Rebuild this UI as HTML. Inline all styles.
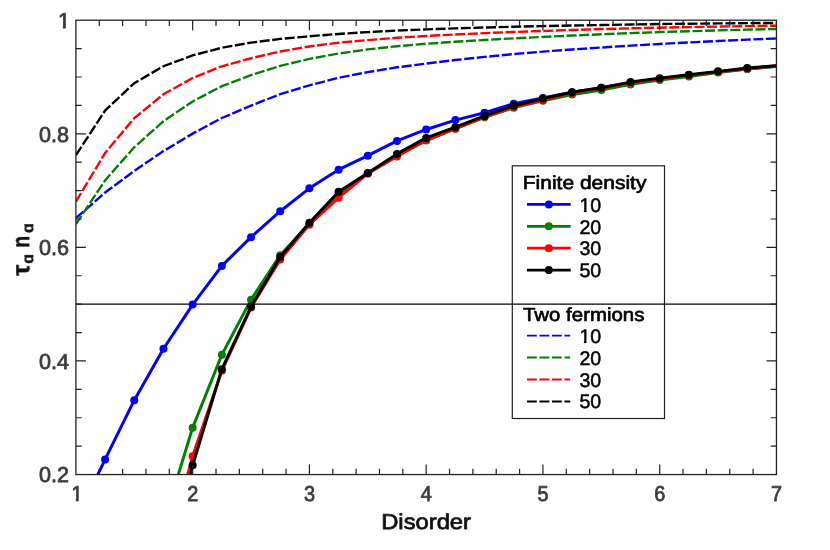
<!DOCTYPE html>
<html><head><meta charset="utf-8"><title>chart</title>
<style>html,body{margin:0;padding:0;background:#fff}body{width:830px;height:550px;overflow:hidden}svg{display:block}text{font-family:"Liberation Sans",sans-serif;text-rendering:geometricPrecision}</style></head><body>
<svg width="830" height="550" viewBox="0 0 830 550">
<rect width="830" height="550" fill="#fff"/>
<g opacity="0.999">
<defs><clipPath id="c"><rect x="75.9" y="20.2" width="700.5500000000001" height="454.35"/></clipPath><clipPath id="m1"><path d="M-8 -18H8V-2.1H1.85V1H-1.1V-2.1H-8Z"/></clipPath><clipPath id="l1"><path d="M-1 -17H24V2H11V-1.95H7.05V1H4.5V-1.95H-1Z"/></clipPath><clipPath id="e1"><path d="M-14 -18H2V-2.1H-4.2V1H-7.1V-2.1H-14Z"/></clipPath></defs>
<g clip-path="url(#c)">
<line x1="75.9" x2="776.45" y1="304.17" y2="304.17" stroke="#000" stroke-width="1.2"/>
<polyline points="75.90,218.21 105.09,192.54 134.28,170.92 163.47,151.11 192.66,133.60 221.85,117.98 251.04,105.61 280.23,94.22 309.42,85.30 338.61,77.81 367.80,72.09 396.99,67.31 426.18,63.58 455.36,60.00 484.55,56.90 513.74,54.08 542.93,51.60 572.12,49.45 601.31,47.53 630.50,45.64 659.69,43.94 688.88,42.40 718.07,40.99 747.26,39.67 776.45,38.45" fill="none" stroke="#0000ff" stroke-width="2.4" stroke-dasharray="10 2.6"/>
<polyline points="75.90,224.16 105.09,180.38 134.28,147.22 163.47,121.16 192.66,101.46 221.85,86.15 251.04,75.17 280.23,65.84 309.42,58.90 338.61,53.51 367.80,49.42 396.99,46.20 426.18,43.76 455.36,41.74 484.55,40.00 513.74,38.36 542.93,36.93 572.12,35.54 601.31,34.30 630.50,33.08 659.69,32.07 688.88,31.20 718.07,30.40 747.26,29.65 776.45,28.96" fill="none" stroke="#008000" stroke-width="2.4" stroke-dasharray="10 2.6"/>
<polyline points="75.90,201.68 105.09,153.01 134.28,118.13 163.47,94.24 192.66,78.04 221.85,66.29 251.04,58.26 280.23,51.52 309.42,46.45 338.61,42.69 367.80,40.08 396.99,37.82 426.18,35.95 455.36,34.44 484.55,33.15 513.74,31.98 542.93,30.96 572.12,29.95 601.31,29.07 630.50,28.34 659.69,27.69 688.88,27.12 718.07,26.59 747.26,26.12 776.45,25.69" fill="none" stroke="#ff0000" stroke-width="2.4" stroke-dasharray="10 2.6"/>
<polyline points="75.90,155.20 105.09,110.59 134.28,83.16 163.47,66.22 192.66,55.43 221.85,47.72 251.04,42.63 280.23,38.93 309.42,36.25 338.61,33.93 367.80,32.08 396.99,30.58 426.18,29.34 455.36,28.35 484.55,27.50 513.74,26.74 542.93,26.08 572.12,25.54 601.31,25.06 630.50,24.47 659.69,24.04 688.88,23.71 718.07,23.42 747.26,23.15 776.45,22.92" fill="none" stroke="#000000" stroke-width="2.4" stroke-dasharray="10 2.6"/>
<polyline points="75.90,519.99 105.09,459.44 134.28,400.15 163.47,348.75 192.66,304.57 221.85,265.89 251.04,237.15 280.23,211.20 309.42,188.31 338.61,169.68 367.80,155.71 396.99,140.89 426.18,129.47 455.36,120.10 484.55,112.77 513.74,103.69 542.93,98.01 572.12,92.33 601.31,87.78 630.50,82.67 659.69,78.70 688.88,75.29 718.07,71.88 747.26,69.04 776.45,66.20" fill="none" stroke="#0000ff" stroke-width="3" stroke-linejoin="round"/>
<circle cx="105.09" cy="459.44" r="4" fill="#0000ff"/>
<circle cx="134.28" cy="400.15" r="4" fill="#0000ff"/>
<circle cx="163.47" cy="348.75" r="4" fill="#0000ff"/>
<circle cx="192.66" cy="304.57" r="4" fill="#0000ff"/>
<circle cx="221.85" cy="265.89" r="4" fill="#0000ff"/>
<circle cx="251.04" cy="237.15" r="4" fill="#0000ff"/>
<circle cx="280.23" cy="211.20" r="4" fill="#0000ff"/>
<circle cx="309.42" cy="188.31" r="4" fill="#0000ff"/>
<circle cx="338.61" cy="169.68" r="4" fill="#0000ff"/>
<circle cx="367.80" cy="155.71" r="4" fill="#0000ff"/>
<circle cx="396.99" cy="140.89" r="4" fill="#0000ff"/>
<circle cx="426.18" cy="129.47" r="4" fill="#0000ff"/>
<circle cx="455.36" cy="120.10" r="4" fill="#0000ff"/>
<circle cx="484.55" cy="112.77" r="4" fill="#0000ff"/>
<circle cx="513.74" cy="103.69" r="4" fill="#0000ff"/>
<circle cx="542.93" cy="98.01" r="4" fill="#0000ff"/>
<circle cx="572.12" cy="92.33" r="4" fill="#0000ff"/>
<circle cx="601.31" cy="87.78" r="4" fill="#0000ff"/>
<circle cx="630.50" cy="82.67" r="4" fill="#0000ff"/>
<circle cx="659.69" cy="78.70" r="4" fill="#0000ff"/>
<circle cx="688.88" cy="75.29" r="4" fill="#0000ff"/>
<circle cx="718.07" cy="71.88" r="4" fill="#0000ff"/>
<circle cx="747.26" cy="69.04" r="4" fill="#0000ff"/>
<polyline points="75.90,758.52 105.09,673.33 134.28,588.14 163.47,522.82 192.66,427.64 221.85,354.72 251.04,299.63 280.23,255.16 309.42,223.52 338.61,193.42 367.80,173.54 396.99,155.37 426.18,140.60 455.36,128.68 484.55,117.32 513.74,107.66 542.93,100.85 572.12,94.60 601.31,90.06 630.50,84.38 659.69,80.12 688.88,76.43 718.07,72.45 747.26,69.04 776.45,66.20" fill="none" stroke="#008000" stroke-width="3" stroke-linejoin="round"/>
<circle cx="192.66" cy="427.64" r="4" fill="#008000"/>
<circle cx="221.85" cy="354.72" r="4" fill="#008000"/>
<circle cx="251.04" cy="299.63" r="4" fill="#008000"/>
<circle cx="280.23" cy="255.16" r="4" fill="#008000"/>
<circle cx="309.42" cy="223.52" r="4" fill="#008000"/>
<circle cx="338.61" cy="193.42" r="4" fill="#008000"/>
<circle cx="367.80" cy="173.54" r="4" fill="#008000"/>
<circle cx="396.99" cy="155.37" r="4" fill="#008000"/>
<circle cx="426.18" cy="140.60" r="4" fill="#008000"/>
<circle cx="455.36" cy="128.68" r="4" fill="#008000"/>
<circle cx="484.55" cy="117.32" r="4" fill="#008000"/>
<circle cx="513.74" cy="107.66" r="4" fill="#008000"/>
<circle cx="542.93" cy="100.85" r="4" fill="#008000"/>
<circle cx="572.12" cy="94.60" r="4" fill="#008000"/>
<circle cx="601.31" cy="90.06" r="4" fill="#008000"/>
<circle cx="630.50" cy="84.38" r="4" fill="#008000"/>
<circle cx="659.69" cy="80.12" r="4" fill="#008000"/>
<circle cx="688.88" cy="76.43" r="4" fill="#008000"/>
<circle cx="718.07" cy="72.45" r="4" fill="#008000"/>
<circle cx="747.26" cy="69.04" r="4" fill="#008000"/>
<polyline points="75.90,872.11 105.09,758.52 134.28,673.33 163.47,565.42 192.66,456.15 221.85,370.84 251.04,307.58 280.23,259.47 309.42,224.66 338.61,197.68 367.80,173.54 396.99,156.50 426.18,140.03 455.36,128.68 484.55,116.75 513.74,107.09 542.93,99.71 572.12,92.90 601.31,88.35 630.50,82.67 659.69,78.70 688.88,75.29 718.07,71.88 747.26,68.47 776.45,65.64" fill="none" stroke="#ff0000" stroke-width="3" stroke-linejoin="round"/>
<circle cx="192.66" cy="456.15" r="4" fill="#ff0000"/>
<circle cx="221.85" cy="370.84" r="4" fill="#ff0000"/>
<circle cx="251.04" cy="307.58" r="4" fill="#ff0000"/>
<circle cx="280.23" cy="259.47" r="4" fill="#ff0000"/>
<circle cx="309.42" cy="224.66" r="4" fill="#ff0000"/>
<circle cx="338.61" cy="197.68" r="4" fill="#ff0000"/>
<circle cx="367.80" cy="173.54" r="4" fill="#ff0000"/>
<circle cx="396.99" cy="156.50" r="4" fill="#ff0000"/>
<circle cx="426.18" cy="140.03" r="4" fill="#ff0000"/>
<circle cx="455.36" cy="128.68" r="4" fill="#ff0000"/>
<circle cx="484.55" cy="116.75" r="4" fill="#ff0000"/>
<circle cx="513.74" cy="107.09" r="4" fill="#ff0000"/>
<circle cx="542.93" cy="99.71" r="4" fill="#ff0000"/>
<circle cx="572.12" cy="92.90" r="4" fill="#ff0000"/>
<circle cx="601.31" cy="88.35" r="4" fill="#ff0000"/>
<circle cx="630.50" cy="82.67" r="4" fill="#ff0000"/>
<circle cx="659.69" cy="78.70" r="4" fill="#ff0000"/>
<circle cx="688.88" cy="75.29" r="4" fill="#ff0000"/>
<circle cx="718.07" cy="71.88" r="4" fill="#ff0000"/>
<circle cx="747.26" cy="68.47" r="4" fill="#ff0000"/>
<polyline points="75.90,928.90 105.09,815.31 134.28,701.73 163.47,593.82 192.66,465.24 221.85,369.14 251.04,306.55 280.23,257.03 309.42,222.84 338.61,191.77 367.80,172.98 396.99,153.89 426.18,137.88 455.36,127.20 484.55,115.95 513.74,105.67 542.93,98.58 572.12,92.21 601.31,87.67 630.50,82.11 659.69,78.13 688.88,74.78 718.07,71.37 747.26,68.08 776.45,65.64" fill="none" stroke="#000000" stroke-width="3" stroke-linejoin="round"/>
<circle cx="192.66" cy="465.24" r="4" fill="#000000"/>
<circle cx="221.85" cy="369.14" r="4" fill="#000000"/>
<circle cx="251.04" cy="306.55" r="4" fill="#000000"/>
<circle cx="280.23" cy="257.03" r="4" fill="#000000"/>
<circle cx="309.42" cy="222.84" r="4" fill="#000000"/>
<circle cx="338.61" cy="191.77" r="4" fill="#000000"/>
<circle cx="367.80" cy="172.98" r="4" fill="#000000"/>
<circle cx="396.99" cy="153.89" r="4" fill="#000000"/>
<circle cx="426.18" cy="137.88" r="4" fill="#000000"/>
<circle cx="455.36" cy="127.20" r="4" fill="#000000"/>
<circle cx="484.55" cy="115.95" r="4" fill="#000000"/>
<circle cx="513.74" cy="105.67" r="4" fill="#000000"/>
<circle cx="542.93" cy="98.58" r="4" fill="#000000"/>
<circle cx="572.12" cy="92.21" r="4" fill="#000000"/>
<circle cx="601.31" cy="87.67" r="4" fill="#000000"/>
<circle cx="630.50" cy="82.11" r="4" fill="#000000"/>
<circle cx="659.69" cy="78.13" r="4" fill="#000000"/>
<circle cx="688.88" cy="74.78" r="4" fill="#000000"/>
<circle cx="718.07" cy="71.37" r="4" fill="#000000"/>
<circle cx="747.26" cy="68.08" r="4" fill="#000000"/>
</g>
<path d="M99.25 474.55v-5.8M99.25 20.2v5.8M122.60 474.55v-5.8M122.60 20.2v5.8M145.96 474.55v-5.8M145.96 20.2v5.8M169.31 474.55v-5.8M169.31 20.2v5.8M192.66 474.55v-10M192.66 20.2v10M216.01 474.55v-5.8M216.01 20.2v5.8M239.36 474.55v-5.8M239.36 20.2v5.8M262.71 474.55v-5.8M262.71 20.2v5.8M286.06 474.55v-5.8M286.06 20.2v5.8M309.42 474.55v-10M309.42 20.2v10M332.77 474.55v-5.8M332.77 20.2v5.8M356.12 474.55v-5.8M356.12 20.2v5.8M379.47 474.55v-5.8M379.47 20.2v5.8M402.82 474.55v-5.8M402.82 20.2v5.8M426.18 474.55v-10M426.18 20.2v10M449.53 474.55v-5.8M449.53 20.2v5.8M472.88 474.55v-5.8M472.88 20.2v5.8M496.23 474.55v-5.8M496.23 20.2v5.8M519.58 474.55v-5.8M519.58 20.2v5.8M542.93 474.55v-10M542.93 20.2v10M566.29 474.55v-5.8M566.29 20.2v5.8M589.64 474.55v-5.8M589.64 20.2v5.8M612.99 474.55v-5.8M612.99 20.2v5.8M636.34 474.55v-5.8M636.34 20.2v5.8M659.69 474.55v-10M659.69 20.2v10M683.04 474.55v-5.8M683.04 20.2v5.8M706.40 474.55v-5.8M706.40 20.2v5.8M729.75 474.55v-5.8M729.75 20.2v5.8M753.10 474.55v-5.8M753.10 20.2v5.8M75.9 446.15h5.8M776.45 446.15h-5.8M75.9 417.76h5.8M776.45 417.76h-5.8M75.9 389.36h5.8M776.45 389.36h-5.8M75.9 360.96h10M776.45 360.96h-10M75.9 332.57h5.8M776.45 332.57h-5.8M75.9 304.17h5.8M776.45 304.17h-5.8M75.9 275.77h5.8M776.45 275.77h-5.8M75.9 247.37h10M776.45 247.37h-10M75.9 218.98h5.8M776.45 218.98h-5.8M75.9 190.58h5.8M776.45 190.58h-5.8M75.9 162.18h5.8M776.45 162.18h-5.8M75.9 133.79h10M776.45 133.79h-10M75.9 105.39h5.8M776.45 105.39h-5.8M75.9 76.99h5.8M776.45 76.99h-5.8M75.9 48.60h5.8M776.45 48.60h-5.8" stroke="#222" stroke-width="1.2" fill="none"/>
<rect x="75.9" y="20.2" width="700.5500000000001" height="454.35" fill="none" stroke="#222" stroke-width="1.3"/>
<g font-size="21.6" fill="#3c3c3c" stroke="#3c3c3c" stroke-width="0.8" stroke-linejoin="round">
<text transform="translate(76.90,500.8) scale(0.92,1)" text-anchor="middle" clip-path="url(#m1)">1</text>
<text transform="translate(192.66,500.8) scale(0.92,1)" text-anchor="middle">2</text>
<text transform="translate(309.42,500.8) scale(0.92,1)" text-anchor="middle">3</text>
<text transform="translate(426.18,500.8) scale(0.92,1)" text-anchor="middle">4</text>
<text transform="translate(542.93,500.8) scale(0.92,1)" text-anchor="middle">5</text>
<text transform="translate(659.69,500.8) scale(0.92,1)" text-anchor="middle">6</text>
<text transform="translate(776.45,500.8) scale(0.92,1)" text-anchor="middle">7</text>
<text transform="translate(69.1,482.45) scale(1.0,1)" text-anchor="end">0.2</text>
<text transform="translate(69.1,368.86) scale(1.0,1)" text-anchor="end">0.4</text>
<text transform="translate(69.1,255.28) scale(1.0,1)" text-anchor="end">0.6</text>
<text transform="translate(69.1,141.69) scale(1.0,1)" text-anchor="end">0.8</text>
<text transform="translate(70.0,28.20) scale(1.0,1)" text-anchor="end" clip-path="url(#e1)">1</text>
</g>
<text x="381.2" y="528.9" font-size="21.5" fill="#111" stroke="#111" stroke-width="0.75" stroke-linejoin="round" textLength="89.8" lengthAdjust="spacingAndGlyphs">Disorder</text>
<g transform="translate(29.2,276) rotate(-90)" font-weight="bold" fill="#111" stroke="#111" stroke-width="0.4">
<text transform="translate(0.3,0) scale(1.03,1)" font-size="24.4">τ</text>
<text transform="translate(12.3,4.0) scale(1.0,1)" font-size="16.0">ɑ</text>
<text transform="translate(28.2,0) scale(0.8,1)" font-size="24.4">n</text>
<text transform="translate(43.0,4.0) scale(1.0,1)" font-size="16.0">ɑ</text>
</g>
<rect x="512.3" y="165.8" width="152.2" height="252.7" fill="none" stroke="#222" stroke-width="1.2"/>
<g font-size="18.8" fill="#000">
<text x="522.8" y="189.3" stroke="#000" stroke-width="0.65" stroke-linejoin="round" textLength="123.6" lengthAdjust="spacingAndGlyphs">Finite density</text>
<text x="523.0" y="321" stroke="#000" stroke-width="0.65" stroke-linejoin="round" textLength="121.4" lengthAdjust="spacingAndGlyphs">Two fermions</text>
<line x1="527" x2="570.7" y1="204.40" y2="204.40" stroke="#0000ff" stroke-width="2.8"/><circle cx="548.8" cy="204.40" r="4" fill="#0000ff"/>
<text transform="translate(579.4,211.60)" font-size="19.6" stroke="#000" stroke-width="0.5" clip-path="url(#l1)">10</text>
<line x1="527" x2="570.2" y1="335.60" y2="335.60" stroke="#0000ff" stroke-width="1.9" stroke-dasharray="9.8 2.7"/>
<text transform="translate(579.4,342.60)" font-size="19.6" stroke="#000" stroke-width="0.5" clip-path="url(#l1)">10</text>
<line x1="527" x2="570.7" y1="226.30" y2="226.30" stroke="#008000" stroke-width="2.8"/><circle cx="548.8" cy="226.30" r="4" fill="#008000"/>
<text transform="translate(579.4,233.50)" font-size="19.6" stroke="#000" stroke-width="0.5">20</text>
<line x1="527" x2="570.2" y1="357.55" y2="357.55" stroke="#008000" stroke-width="1.9" stroke-dasharray="9.8 2.7"/>
<text transform="translate(579.4,364.55)" font-size="19.6" stroke="#000" stroke-width="0.5">20</text>
<line x1="527" x2="570.7" y1="248.20" y2="248.20" stroke="#ff0000" stroke-width="2.8"/><circle cx="548.8" cy="248.20" r="4" fill="#ff0000"/>
<text transform="translate(579.4,255.40)" font-size="19.6" stroke="#000" stroke-width="0.5">30</text>
<line x1="527" x2="570.2" y1="379.50" y2="379.50" stroke="#ff0000" stroke-width="1.9" stroke-dasharray="9.8 2.7"/>
<text transform="translate(579.4,386.50)" font-size="19.6" stroke="#000" stroke-width="0.5">30</text>
<line x1="527" x2="570.7" y1="270.10" y2="270.10" stroke="#000000" stroke-width="2.8"/><circle cx="548.8" cy="270.10" r="4" fill="#000000"/>
<text transform="translate(579.4,277.30)" font-size="19.6" stroke="#000" stroke-width="0.5">50</text>
<line x1="527" x2="570.2" y1="401.45" y2="401.45" stroke="#000000" stroke-width="1.9" stroke-dasharray="9.8 2.7"/>
<text transform="translate(579.4,408.45)" font-size="19.6" stroke="#000" stroke-width="0.5">50</text>
</g>
</g>
</svg></body></html>
